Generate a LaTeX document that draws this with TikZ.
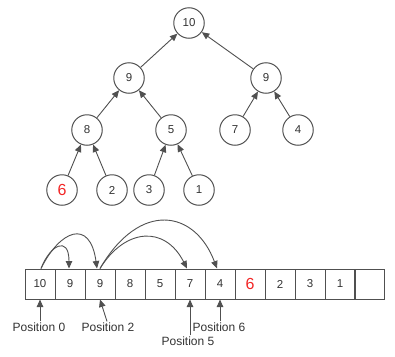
\documentclass[tikz,border=0pt]{standalone}
\usepackage{fontspec}
\setmainfont{Liberation Sans}
\usetikzlibrary{arrows.meta}
\definecolor{linegray}{HTML}{505050}
\definecolor{txtgray}{HTML}{333333}
\definecolor{hired}{HTML}{F22525}
\begin{document}
\begin{tikzpicture}[x=1pt,y=-1pt,
  every node/.style={font=\fontsize{11.5}{13}\selectfont, text=txtgray},
  treenode/.style={circle, draw=linegray, line width=1pt, minimum size=30.5pt, inner sep=0pt},
  cell/.style={draw=linegray, line width=1pt, minimum width=30pt, minimum height=30pt, inner sep=0pt},
  redtxt/.style={text=hired, font=\fontsize{16}{18}\selectfont},
  lbl/.style={inner sep=1pt, font=\fontsize{12}{14}\selectfont},
  conn/.style={draw=linegray, line width=0.9pt, -{Triangle[width=6.5pt,length=7.5pt]}}
]
\useasboundingbox (0,0) rectangle (395,356);
% tree
\node[treenode] (t0) at (189,23) {10};
\node[treenode] (t1) at (129,78) {9};
\node[treenode] (t2) at (266,78) {9};
\node[treenode] (t3) at (87,130) {8};
\node[treenode] (t4) at (171,130) {5};
\node[treenode] (t5) at (235,130) {7};
\node[treenode] (t6) at (298,130) {4};
\node[treenode, redtxt] (t7) at (62,190) {6};
\node[treenode] (t8) at (112,190) {2};
\node[treenode] (t9) at (149,190) {3};
\node[treenode] (t10) at (199,190) {1};
\draw[conn] (t1) -- (t0);
\draw[conn] (t2) -- (t0);
\draw[conn] (t3) -- (t1);
\draw[conn] (t4) -- (t1);
\draw[conn] (t5) -- (t2);
\draw[conn] (t6) -- (t2);
\draw[conn] (t7) -- (t3);
\draw[conn] (t8) -- (t3);
\draw[conn] (t9) -- (t4);
\draw[conn] (t10) -- (t4);
% array
\node[cell] (a0) at (40,284) {10};
\node[cell] (a1) at (70,284) {9};
\node[cell] (a2) at (100,284) {9};
\node[cell] (a3) at (130,284) {8};
\node[cell] (a4) at (160,284) {5};
\node[cell] (a5) at (190,284) {7};
\node[cell] (a6) at (220,284) {4};
\node[cell, redtxt] (a7) at (250,284) {6};
\node[cell] (a8) at (280,284) {2};
\node[cell] (a9) at (310,284) {3};
\node[cell] (a10) at (340,284) {1};
\node[cell] (a11) at (369.5,284) {};
% arcs
\draw[conn] ([xshift=1pt]a0.north) .. controls (50,245) and (69,235) .. ([xshift=-1pt]a1.north);
\draw[conn] ([xshift=1pt]a0.north) .. controls (60,230) and (90,218) .. ([xshift=-3pt]a2.north);
\draw[conn] (a2.north) .. controls (125,228) and (165,225) .. ([xshift=-3pt]a5.north);
\draw[conn] (a2.north) .. controls (140,200) and (195,210) .. ([xshift=-3pt]a6.north);
% position labels
\node[lbl] (p0) at (39,327) {Position 0};
\node[lbl] (p2) at (108,327) {Position 2};
\node[lbl] (p5) at (188,341) {Position 5};
\node[lbl] (p6) at (219,327) {Position 6};
\draw[conn] (p0.north -| a0.south) -- (a0.south);
\draw[conn] ([xshift=-1pt]p2.north) -- (a2.south);
\draw[conn] (a5.south |- p5.north) -- (a5.south);
\draw[conn] (a6.south |- p6.north) -- (a6.south);
\end{tikzpicture}
\end{document}
